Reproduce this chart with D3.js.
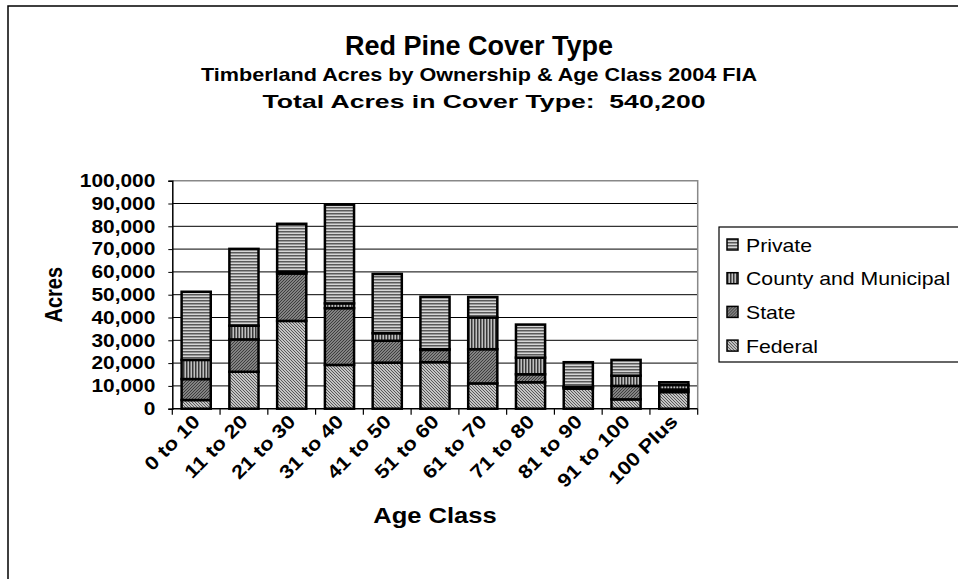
<!DOCTYPE html>
<html>
<head>
<meta charset="utf-8">
<script src="https://cdn.jsdelivr.net/npm/d3@7/dist/d3.min.js"></script>
<style>
  body { margin: 0; background: #fff; }
  svg { font-family: Arial, "Liberation Sans", sans-serif; }
</style>
</head>
<body>
<svg id="chart" width="958" height="579"></svg>
<script>
// age classes
let categories = ['0 to 10', '11 to 20', '21 to 30', '31 to 40', '41 to 50', '51 to 60',
    '61 to 70', '71 to 80', '81 to 90', '91 to 100', '100 Plus'];
// acres by ownership (stack order bottom -> top)
let federal = [3800, 16200, 38500, 19200, 20200, 20400, 11100, 11600, 8800, 4100, 7300];
let state = [9200, 14200, 20800, 24900, 9600, 5400, 15000, 3500, 600, 5900, 1100];
let county = [8400, 6000, 800, 2100, 3300, 300, 13900, 7300, 200, 4500, 2000];
let private_ = [29900, 33700, 21000, 43300, 26000, 23000, 9000, 14500, 10800, 6900, 1200];
let series_names = ['Federal', 'State', 'County and Municipal', 'Private'];
let y_ticks = d3.range(0, 100001, 10000);

let svg = d3.select('#chart');
let width = 958, height = 579;
let padding = { left: 172.3, right: width - 697.7, top: 180.7, bottom: height - 408.7 };
let sx = 1.16;  // text in the original is a bit wide

// 图案填充
let defs = svg.append('defs');
function add_pattern(id, bg, fg, draw) {
    let p = defs.append('pattern')
        .attr('id', id)
        .attr('patternUnits', 'userSpaceOnUse')
        .attr('width', 3).attr('height', 3);
    p.append('rect').attr('width', 3).attr('height', 3).attr('fill', bg);
    draw(p, fg);
}
add_pattern('pat_private', '#d6d6d6', '#5a5a5a', (p, c) => {
    p.append('rect').attr('x', 0).attr('y', 0).attr('width', 3).attr('height', 1.5).attr('fill', c);
});
add_pattern('pat_county', '#c0c0c0', '#383838', (p, c) => {
    p.append('rect').attr('x', 0).attr('y', 0).attr('width', 1.5).attr('height', 3).attr('fill', c);
});
add_pattern('pat_state', '#a0a0a0', '#383838', (p, c) => {
    p.append('path').attr('d', 'M0,3 L3,0 M-1,1 L1,-1 M2,4 L4,2').attr('stroke', c).attr('stroke-width', 1.1);
});
add_pattern('pat_federal', '#f2f2f2', '#505050', (p, c) => {
    p.append('path').attr('d', 'M0,0 L3,3 M-1,2 L1,4 M2,-1 L4,1').attr('stroke', c).attr('stroke-width', 1.1);
});
let fills = ['url(#pat_federal)', 'url(#pat_state)', 'url(#pat_county)', 'url(#pat_private)'];

function label(parent, x0, y0, rot, scale_x, size, txt, anchor) {
    return parent.append('text')
        .attr('transform', `translate(${x0},${y0}) rotate(${rot}) scale(${scale_x},1)`)
        .attr('text-anchor', anchor || 'middle')
        .attr('font-size', size + 'px')
        .attr('font-weight', 'bold')
        .attr('xml:space', 'preserve')
        .text(txt);
}

// outer frame
svg.append('rect')
    .attr('x', 8).attr('y', 6).attr('width', 1000).attr('height', 1000)
    .attr('fill', 'none').attr('stroke', '#000').attr('stroke-width', 1.5);

// titles
label(svg, 479, 55, 0, 1.0, 27, 'Red Pine Cover Type');
label(svg, 479, 81, 0, 1.2, 18, 'Timberland Acres by Ownership & Age Class 2004 FIA');
label(svg, 484, 108, 0, 1.4, 19, 'Total Acres in Cover Type:  540,200');

// scales
let x = d3.scaleBand()
    .domain(categories)
    .range([padding.left, width - padding.right])
    .paddingInner(0.39)
    .paddingOuter(0.195);
let y = d3.scaleLinear()
    .domain([0, 100000])
    .range([height - padding.bottom, padding.top]);

// gridlines
svg.append('g').selectAll('line')
    .data(y_ticks.slice(1, -1))
    .enter().append('line')
    .attr('x1', padding.left).attr('x2', width - padding.right)
    .attr('y1', d => y(d)).attr('y2', d => y(d))
    .attr('stroke', '#000').attr('stroke-width', 1);
// plot border top / right
svg.append('path')
    .attr('d', `M${padding.left},${y(100000)} H${width - padding.right} V${y(0)}`)
    .attr('fill', 'none').attr('stroke', '#888').attr('stroke-width', 1.5);

// stacked data
let rows = categories.map((c, i) => ({ cat: c, vals: [federal[i], state[i], county[i], private_[i]] }));
let segs = [];
rows.forEach(r => {
    let acc = 0;
    r.vals.forEach((v, k) => {
        segs.push({ cat: r.cat, k: k, y0: acc, y1: acc + v });
        acc += v;
    });
});
svg.append('g').selectAll('rect')
    .data(segs)
    .enter().append('rect')
    .attr('x', d => x(d.cat))
    .attr('width', x.bandwidth())
    .attr('y', d => y(d.y1))
    .attr('height', d => y(d.y0) - y(d.y1))
    .attr('fill', d => fills[d.k])
    .attr('stroke', '#000')
    .attr('stroke-width', 2.5);

// y axis
let axis_y = d3.axisLeft(y).tickValues(y_ticks).tickSize(4).tickFormat(d3.format(','));
let gy = svg.append('g')
    .attr('transform', `translate(${padding.left},0)`)
    .call(axis_y);
gy.selectAll('text')
    .attr('font-size', '18px').attr('font-weight', 'bold')
    .attr('font-family', 'Arial, "Liberation Sans", sans-serif').attr('fill', '#000')
    .attr('x', 0)
    .attr('transform', `translate(-17,0) scale(${sx},1)`);
gy.select('.domain').attr('stroke', '#000').attr('stroke-width', 1.5);

// x axis: ticks at category boundaries
let step = x.step();
let bounds = d3.range(categories.length + 1).map(i => padding.left + i * step);
svg.append('line')
    .attr('x1', padding.left).attr('x2', width - padding.right)
    .attr('y1', y(0)).attr('y2', y(0))
    .attr('stroke', '#000').attr('stroke-width', 1.5);
svg.append('g').selectAll('line')
    .data(bounds)
    .enter().append('line')
    .attr('x1', d => d).attr('x2', d => d)
    .attr('y1', y(0)).attr('y2', y(0) + 6)
    .attr('stroke', '#000').attr('stroke-width', 1.2);
let gx = svg.append('g');
categories.forEach(c => {
    label(gx, x(c) + x.bandwidth() / 2 + 5, y(0) + 14, -45, 1.15, 19, c, 'end');
});

// axis titles
svg.append('text')
    .attr('transform', `translate(62,${(y(0) + y(100000)) / 2}) rotate(-90) scale(1,${sx})`)
    .attr('text-anchor', 'middle')
    .attr('font-size', '20px').attr('font-weight', 'bold')
    .text('Acres');
label(svg, 435, 523, 0, sx, 22, 'Age Class');

// legend
let lg = svg.append('g');
lg.append('rect')
    .attr('x', 719).attr('y', 227).attr('width', 300).attr('height', 135)
    .attr('fill', '#fff').attr('stroke', '#000').attr('stroke-width', 1.2);
let legend_order = [3, 2, 1, 0];
let item = lg.selectAll('g.item')
    .data(legend_order)
    .enter().append('g')
    .attr('transform', (d, i) => `translate(727,${245 + i * 33.7})`);
item.append('rect')
    .attr('x', 0).attr('y', -6).attr('width', 11).attr('height', 11)
    .attr('fill', d => fills[d]).attr('stroke', '#000').attr('stroke-width', 1.5);
item.append('text')
    .attr('transform', `translate(19,6.5) scale(1.18,1)`)
    .attr('font-size', '18px')
    .text(d => series_names[d]);
</script>
</body>
</html>
